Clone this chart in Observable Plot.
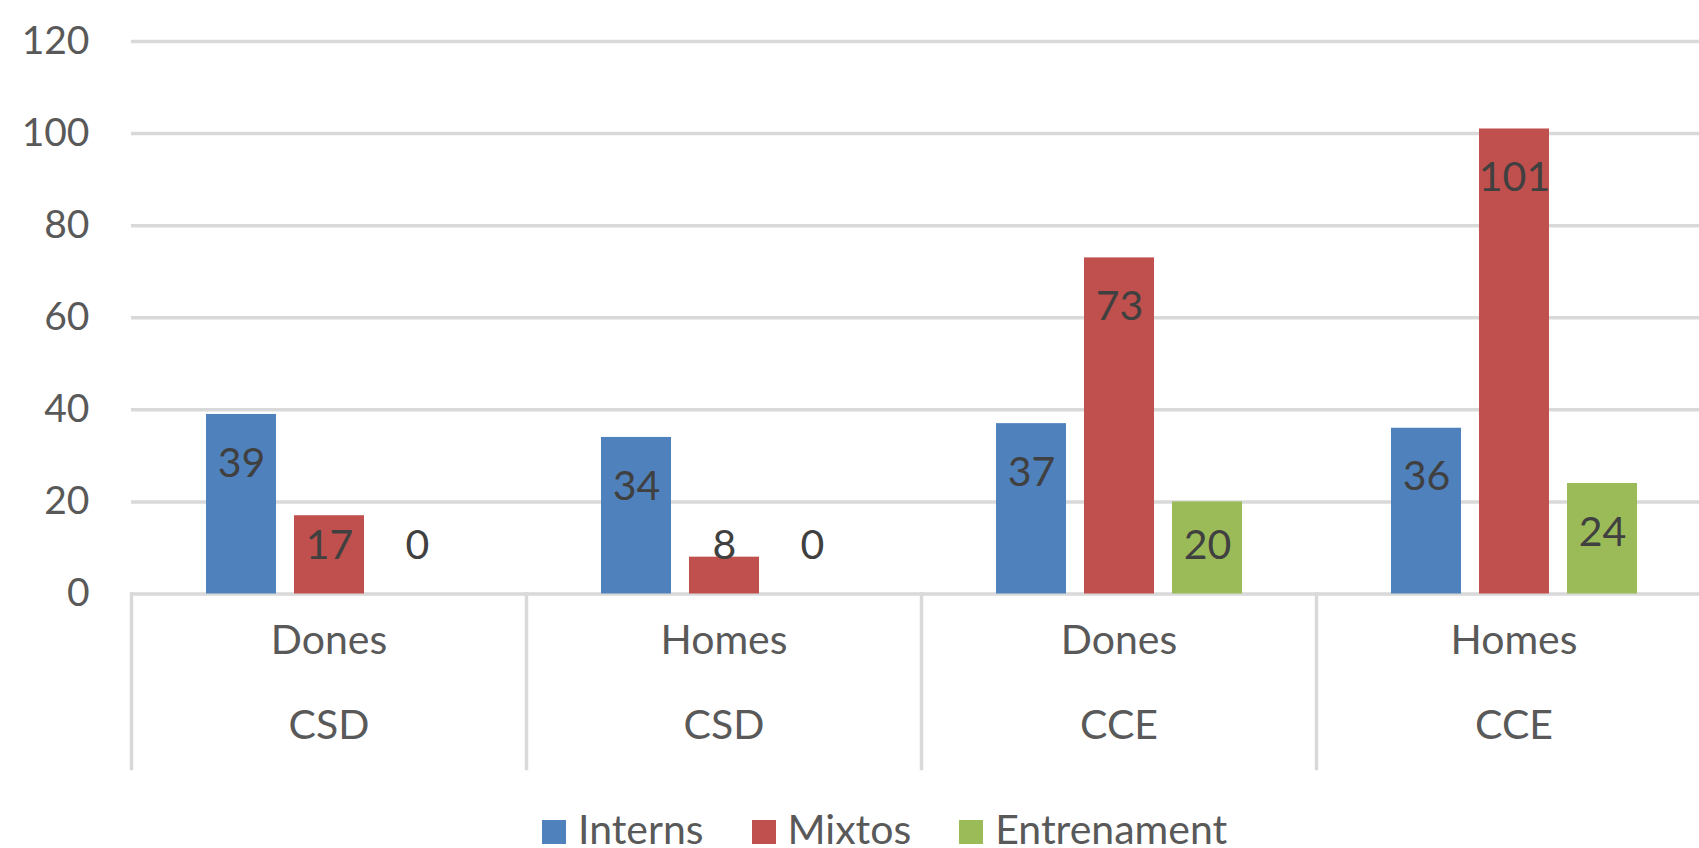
<!DOCTYPE html>
<html>
<head>
<meta charset="utf-8">
<script src="https://cdn.jsdelivr.net/npm/d3@7"></script>
<script src="https://cdn.jsdelivr.net/npm/@observablehq/plot@0.6"></script>
<style>
  html, body { margin: 0; padding: 0; background: #ffffff; overflow: hidden; }
  #chart svg { display: block; }
  #legend { height: 45px; font-family: Lato, sans-serif; font-size: 41px; line-height: 52px; color: #595959; white-space: nowrap; padding-left: 542px; }
  #legend .item { display: inline-block; margin-right: 48px; }
  #legend .sw { display: inline-block; width: 24px; height: 24px; margin-right: 12px; }
</style>
</head>
<body>
<div id="chart"></div>
<div id="legend"></div>
<script>
// ---- data ----
const groups = ["Dones CSD", "Homes CSD", "Dones CCE", "Homes CCE"];
const sexes = ["Dones", "Homes", "Dones", "Homes"];
const centres = ["CSD", "CSD", "CCE", "CCE"];
const series = ["Interns", "Mixtos", "Entrenament"];
const interns = [39, 34, 37, 36];
const mixtos = [17, 8, 73, 101];
const entrenament = [0, 0, 20, 24];
const colors = ["#4f81bd", "#c0504d", "#9bbb59"];
const yTicks = [0, 20, 40, 60, 80, 100, 120];

const values = [interns, mixtos, entrenament];
const rows = groups.flatMap((g, i) => series.map((s, j) => ({group: g, series: s, value: values[j][i]})));
const groupRows = groups.map((g, i) => ({group: g, sex: sexes[i], centre: centres[i]}));

const grid = "#d9d9d9";

const chart = Plot.plot({
  width: 1699,
  height: 803,
  marginLeft: 131,
  marginRight: -12,
  marginTop: 41,
  marginBottom: 209.5,
  style: {fontFamily: "Lato, sans-serif", fontSize: "40px", color: "#595959", background: "#ffffff", overflow: "visible"},
  fx: {domain: groups, padding: 0, axis: null},
  x: {domain: series, paddingInner: 0.209, paddingOuter: 0.835, axis: null},
  y: {domain: [0, 120], axis: null},
  color: {domain: series, range: colors},
  marks: [
    Plot.ruleY(yTicks, {stroke: grid, strokeWidth: 3.5}),
    Plot.frame({anchor: "left", stroke: grid, strokeWidth: 3.5, insetTop: 552.5, insetBottom: -174.5}),
    Plot.axisY({ticks: yTicks, tickSize: 0, tickPadding: 42, fontSize: 39, fill: "#595959", label: null}),
    Plot.barY(rows, {fx: "group", x: "series", y: "value", fill: "series"}),
    Plot.text(rows, {fx: "group", x: "series", y: d => Math.max(d.value, 21), text: d => String(d.value), dy: 49, fill: "#404040", fontSize: 41}),
    Plot.text(groupRows, {fx: "group", text: "sex", frameAnchor: "bottom", dy: 59.5, fill: "#595959", fontSize: 41}),
    Plot.text(groupRows, {fx: "group", text: "centre", frameAnchor: "bottom", dy: 145, fill: "#595959", fontSize: 41})
  ]
});
document.getElementById("chart").appendChild(chart);

const legend = document.getElementById("legend");
series.forEach((s, i) => {
  const item = document.createElement("span");
  item.className = "item";
  const sw = document.createElement("span");
  sw.className = "sw";
  sw.style.background = colors[i];
  item.appendChild(sw);
  item.appendChild(document.createTextNode(s));
  legend.appendChild(item);
});
</script>
</body>
</html>
